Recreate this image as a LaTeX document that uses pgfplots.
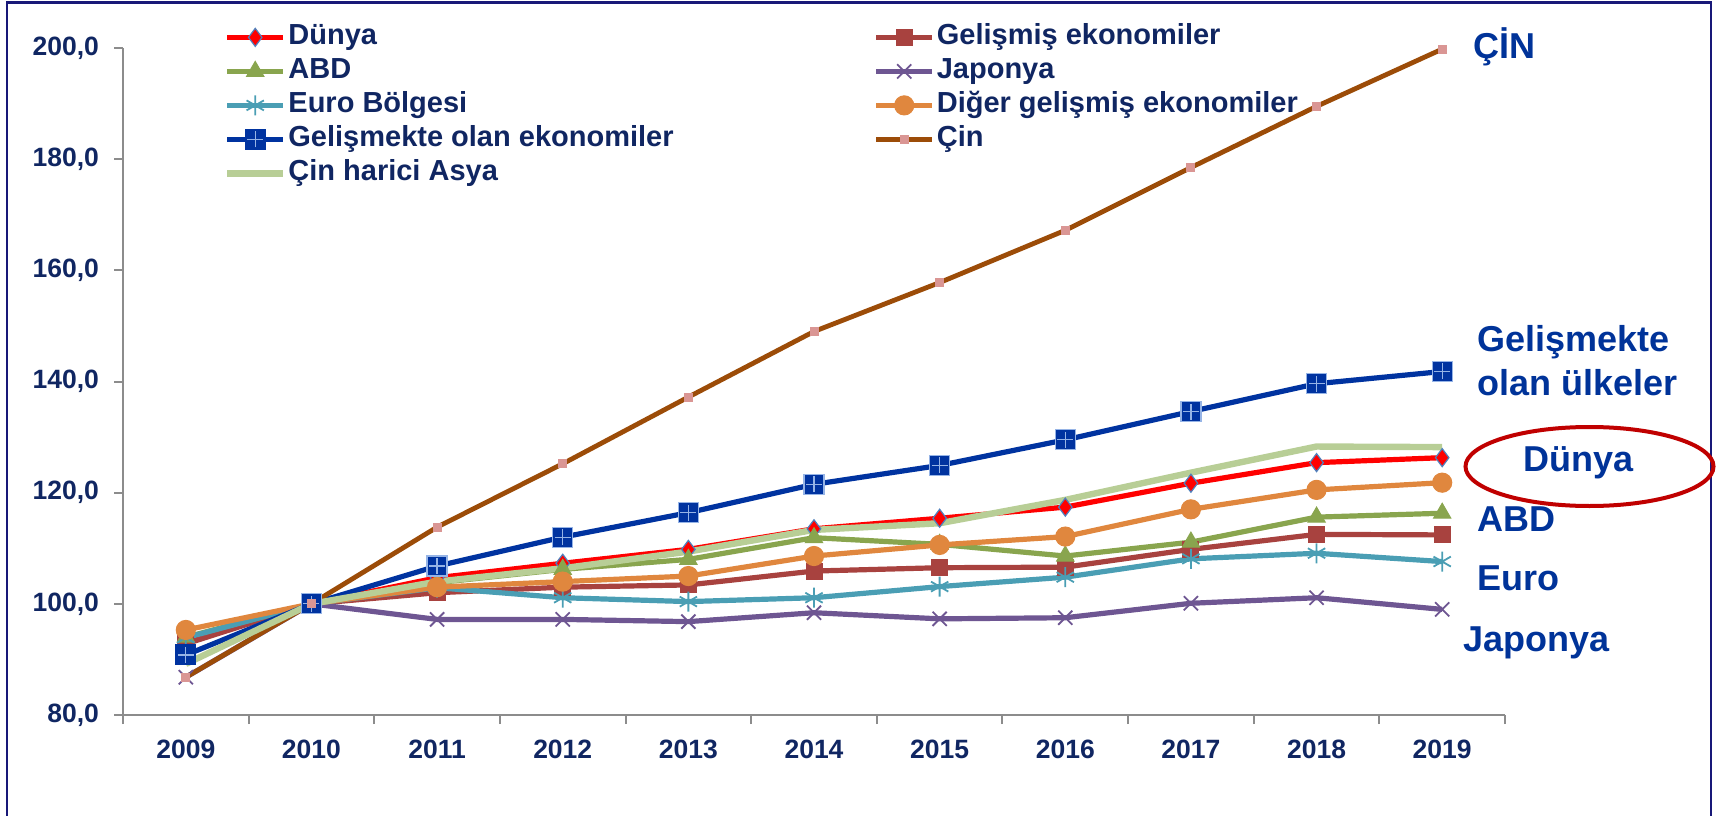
\documentclass[border=0pt]{standalone}
\usepackage{fontspec}
\setmainfont{Liberation Sans}
\usepackage{pgfplots}
\pgfplotsset{compat=1.18}
\definecolor{navytext}{RGB}{16,38,98}
\definecolor{annot}{RGB}{0,51,153}
\definecolor{framec}{RGB}{24,24,120}
\definecolor{cDunya}{RGB}{255,0,0}
\definecolor{cDunyaEdge}{RGB}{79,129,189}
\definecolor{cGelismis}{RGB}{168,66,63}
\definecolor{cABD}{RGB}{137,165,78}
\definecolor{cJap}{RGB}{110,86,146}
\definecolor{cEuro}{RGB}{74,158,180}
\definecolor{cDiger}{RGB}{224,135,62}
\definecolor{cGelismekte}{RGB}{0,51,160}
\definecolor{cPlus}{RGB}{150,180,230}
\definecolor{cCin}{RGB}{156,76,8}
\definecolor{cCinMark}{RGB}{218,150,148}
\definecolor{cAsya}{RGB}{184,206,150}
\definecolor{cEllipse}{RGB}{192,0,0}
\definecolor{axisgray}{RGB}{140,140,140}
\pgfdeclareplotmark{sqplus}{%
  \pgfpathrectangle{\pgfpoint{-\pgfplotmarksize}{-\pgfplotmarksize}}{\pgfpoint{2\pgfplotmarksize}{2\pgfplotmarksize}}%
  \pgfusepathqfillstroke
  \pgfsetstrokecolor{cPlus}\pgfsetlinewidth{0.6pt}%
  \pgfpathmoveto{\pgfpoint{-0.8\pgfplotmarksize}{0pt}}\pgfpathlineto{\pgfpoint{0.8\pgfplotmarksize}{0pt}}%
  \pgfpathmoveto{\pgfpoint{0pt}{-0.8\pgfplotmarksize}}\pgfpathlineto{\pgfpoint{0pt}{0.8\pgfplotmarksize}}%
  \pgfusepathqstroke
}
\begin{document}
\begin{tikzpicture}
\useasboundingbox (0,0) rectangle (858.5pt,407.5pt);
\draw[framec, line width=1.2pt] (3.5pt,-10pt) -- (3.5pt,406.3pt) -- (855.5pt,406.3pt) -- (855.5pt,-10pt);
\begin{axis}[
  at={(61.5pt,50pt)}, anchor=south west,
  scale only axis, width=691pt, height=333.5pt,
  xmin=-0.5, xmax=10.5, ymin=80, ymax=200,
  axis x line*=bottom, axis y line*=left,
  axis line style={axisgray, line width=1pt},
  tick align=outside,
  tick style={axisgray, line width=1pt},
  major tick length=4.5pt,
  xtick={-0.5,0.5,...,10.5}, xticklabels={},
  extra x ticks={0,1,2,3,4,5,6,7,8,9,10},
  extra x tick labels={2009,2010,2011,2012,2013,2014,2015,2016,2017,2018,2019},
  extra x tick style={major tick length=0pt},
  ytick={80,100,120,140,160,180,200},
  yticklabels={{80,0},{100,0},{120,0},{140,0},{160,0},{180,0},{200,0}},
  ticklabel style={font=\fontsize{13.25}{15}\selectfont\bfseries, text=navytext},
  xticklabel style={yshift=-9pt},
  yticklabel style={xshift=-4pt},
  clip=false,
  every axis plot/.append style={line width=2.6pt},
  legend image code/.code={%
    \draw[mark repeat=2, mark phase=2] plot coordinates {(0pt,0pt) (14pt,0pt) (28pt,0pt)};},
  legend columns=2,
  legend cell align=left,
  legend style={draw=none, fill=none, at={(0.0731,1.0414)}, anchor=north west,
    inner sep=0pt, outer sep=0pt, row sep=0pt,
    nodes={inner sep=1pt, text height=11pt, text depth=4pt,
      font=\fontsize{14.5}{17}\selectfont\bfseries, text=navytext},
    /tikz/column 2/.style={column sep=99pt}},
]
\addplot[color=cDunya, mark=diamond*, mark size=4.5pt, mark options={fill=cDunya, draw=cDunyaEdge, line width=0.6pt}]
  coordinates {(0,93.0) (1,100) (2,104.7) (3,107.3) (4,109.8) (5,113.5) (6,115.4) (7,117.4) (8,121.7) (9,125.4) (10,126.3)};
\addlegendentry{Dünya}
\addplot[color=cGelismis, mark=square*, mark size=4pt, mark options={fill=cGelismis, line width=0.5pt}]
  coordinates {(0,92.8) (1,100) (2,102.0) (3,103.0) (4,103.4) (5,105.9) (6,106.5) (7,106.6) (8,109.8) (9,112.5) (10,112.4)};
\addlegendentry{Gelişmiş ekonomiler}
\addplot[color=cABD, mark=triangle*, mark size=5pt, mark options={fill=cABD, line width=0.5pt}]
  coordinates {(0,94.0) (1,100) (2,103.8) (3,106.2) (4,108.0) (5,111.9) (6,110.7) (7,108.6) (8,111.1) (9,115.6) (10,116.3)};
\addlegendentry{ABD}
\addplot[color=cJap, mark=x, mark size=5pt, mark options={line width=0.9pt}]
  coordinates {(0,86.8) (1,100) (2,97.2) (3,97.2) (4,96.8) (5,98.4) (6,97.3) (7,97.5) (8,100.1) (9,101.1) (10,99.0)};
\addlegendentry{Japonya}
\addplot[color=cEuro, mark=asterisk, mark size=5pt, mark options={line width=0.9pt}]
  coordinates {(0,93.9) (1,100) (2,102.9) (3,101.1) (4,100.4) (5,101.1) (6,103.1) (7,104.8) (8,108.1) (9,109.1) (10,107.6)};
\addlegendentry{Euro Bölgesi}
\addplot[color=cDiger, mark=*, mark size=4.8pt, mark options={fill=cDiger, line width=0.5pt}]
  coordinates {(0,95.3) (1,100) (2,103.0) (3,104.0) (4,105.0) (5,108.6) (6,110.6) (7,112.1) (8,117.0) (9,120.5) (10,121.8)};
\addlegendentry{Diğer gelişmiş ekonomiler}
\addplot[color=cGelismekte, mark=sqplus, mark size=5pt, mark options={fill=cGelismekte, line width=0.5pt}]
  coordinates {(0,90.8) (1,100) (2,106.8) (3,112.0) (4,116.4) (5,121.5) (6,124.9) (7,129.5) (8,134.6) (9,139.6) (10,141.8)};
\addlegendentry{Gelişmekte olan ekonomiler}
\addplot[color=cCin, line width=2.4pt, mark=square*, mark size=2pt, mark options={fill=cCinMark, draw=cCinMark, line width=0pt}]
  coordinates {(0,86.8) (1,100) (2,113.8) (3,125.2) (4,137.2) (5,149.0) (6,157.8) (7,167.2) (8,178.5) (9,189.5) (10,199.8)};
\addlegendentry{Çin}
\addplot[color=cAsya, line width=3.2pt, mark=none]
  coordinates {(0,89.2) (1,100) (2,104.0) (3,106.4) (4,109.4) (5,113.3) (6,114.5) (7,118.7) (8,123.6) (9,128.3) (10,128.2)};
\addlegendentry{Çin harici Asya}
\end{axis}
\begin{scope}[every node/.style={font=\fontsize{18}{22}\selectfont\bfseries, text=annot, inner sep=0pt, anchor=base west}]
\node at (736.5pt,378pt) {ÇİN};
\node at (738.5pt,232pt) {Gelişmekte};
\node at (738.5pt,210pt) {olan ülkeler};
\node at (761.5pt,172pt) {Dünya};
\node at (738.5pt,142pt) {ABD};
\node at (738.5pt,112.5pt) {Euro};
\node at (731.5pt,82pt) {Japonya};
\end{scope}
\draw[cEllipse, line width=2pt] (794.75pt,174.25pt) ellipse [x radius=62pt, y radius=19.75pt];
\end{tikzpicture}
\end{document}
